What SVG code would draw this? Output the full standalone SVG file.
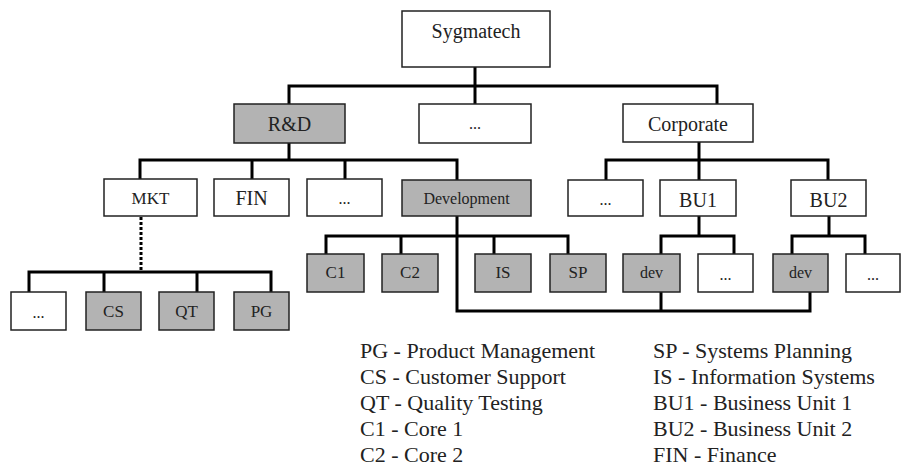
<svg xmlns="http://www.w3.org/2000/svg" width="901" height="470" viewBox="0 0 901 470">
<style>
.b{fill:#fff;stroke:#222;stroke-width:1.5}
.g{fill:#b3b3b3;stroke:#222;stroke-width:1.5}
.t{font-family:"Liberation Serif","Times New Roman",serif;fill:#222;text-anchor:middle}
.l{font-size:20px}
.m{font-size:17px}
.s{font-size:16px}
.c{fill:none;stroke:#000;stroke-width:3;stroke-linejoin:miter;stroke-linecap:square}
.d{fill:none;stroke:#000;stroke-width:3;stroke-dasharray:3 2}
.leg{font-family:"Liberation Serif","Times New Roman",serif;font-size:22px;fill:#222}
</style>
<rect width="901" height="470" fill="#fff"/>
<g id="connectors">
<path class="c" d="M475 67V104M289 104V86H717V104"/>
<path class="c" d="M289 143V160M140 179V160H457V179M252 160V179M345 160V179"/>
<path class="d" d="M141 217V271"/>
<path class="c" d="M29 292V272H271V292M104 272V292M197 272V292"/>
<path class="c" d="M457 216V311H810V292M661 292V311"/>
<path class="c" d="M326 254V236H568V254M401 236V254M494 236V254"/>
<path class="c" d="M699 142V160M606 180V160H828V180M699 160V180"/>
<path class="c" d="M699 216V236M661 254V236H734V254"/>
<path class="c" d="M829 216V236M792 254V236H865V254"/>
</g>
<g id="sygmatech"><rect class="b" x="402" y="11" width="148" height="56"/><text class="t l" x="476" y="38">Sygmatech</text></g>
<g id="rd"><rect class="g" x="234" y="104" width="111" height="39"/><text class="t l" x="289.5" y="131">R&amp;D</text></g>
<g id="dots1"><rect class="b" x="419" y="104" width="112" height="39"/><text class="t s" x="475" y="129">...</text></g>
<g id="corporate"><rect class="b" x="623" y="104" width="130" height="38"/><text class="t l" x="688" y="131">Corporate</text></g>
<g id="mkt"><rect class="b" x="104" y="179" width="93" height="37"/><text class="t m" x="150.5" y="204">MKT</text></g>
<g id="fin"><rect class="b" x="214" y="179" width="75" height="37"/><text class="t l" x="251.5" y="205">FIN</text></g>
<g id="dots2"><rect class="b" x="307" y="179" width="75" height="37"/><text class="t s" x="344.5" y="204">...</text></g>
<g id="development"><rect class="g" x="402" y="180" width="129" height="36"/><text class="t s" x="466.5" y="204">Development</text></g>
<g id="dots3"><rect class="b" x="568" y="180" width="75" height="36"/><text class="t s" x="605.5" y="205">...</text></g>
<g id="bu1"><rect class="b" x="660" y="180" width="76" height="36"/><text class="t l" x="698" y="207">BU1</text></g>
<g id="bu2"><rect class="b" x="791" y="180" width="75" height="36"/><text class="t l" x="828.5" y="207">BU2</text></g>
<g id="c1"><rect class="g" x="307" y="254" width="57" height="38"/><text class="t m" x="335.5" y="278">C1</text></g>
<g id="c2"><rect class="g" x="382" y="254" width="56" height="38"/><text class="t m" x="410" y="278">C2</text></g>
<g id="is"><rect class="g" x="475" y="254" width="56" height="38"/><text class="t m" x="503" y="278">IS</text></g>
<g id="sp"><rect class="g" x="550" y="254" width="56" height="38"/><text class="t m" x="578" y="278">SP</text></g>
<g id="dev1"><rect class="g" x="623" y="254" width="57" height="38"/><text class="t s" x="651.5" y="278">dev</text></g>
<g id="dots4"><rect class="b" x="698" y="254" width="55" height="38"/><text class="t s" x="725.5" y="280">...</text></g>
<g id="dev2"><rect class="g" x="773" y="254" width="55" height="38"/><text class="t s" x="800.5" y="278">dev</text></g>
<g id="dots5"><rect class="b" x="846" y="254" width="54" height="38"/><text class="t s" x="873" y="280">...</text></g>
<g id="dots6"><rect class="b" x="11" y="292" width="55" height="38"/><text class="t s" x="38.5" y="318">...</text></g>
<g id="cs"><rect class="g" x="86" y="292" width="55" height="38"/><text class="t m" x="113.5" y="317">CS</text></g>
<g id="qt"><rect class="g" x="159" y="292" width="55" height="38"/><text class="t m" x="186.5" y="317">QT</text></g>
<g id="pg"><rect class="g" x="234" y="292" width="55" height="38"/><text class="t m" x="261.5" y="317">PG</text></g>
<g id="legend">
<text class="leg" x="360" y="358">PG - Product Management</text>
<text class="leg" x="360" y="384">CS - Customer Support</text>
<text class="leg" x="360" y="410">QT - Quality Testing</text>
<text class="leg" x="360" y="436">C1 - Core 1</text>
<text class="leg" x="360" y="462">C2 - Core 2</text>
<text class="leg" x="653" y="358">SP - Systems Planning</text>
<text class="leg" x="653" y="384">IS - Information Systems</text>
<text class="leg" x="653" y="410">BU1 - Business Unit 1</text>
<text class="leg" x="653" y="436">BU2 - Business Unit 2</text>
<text class="leg" x="653" y="462">FIN - Finance</text>
</g>
</svg>
